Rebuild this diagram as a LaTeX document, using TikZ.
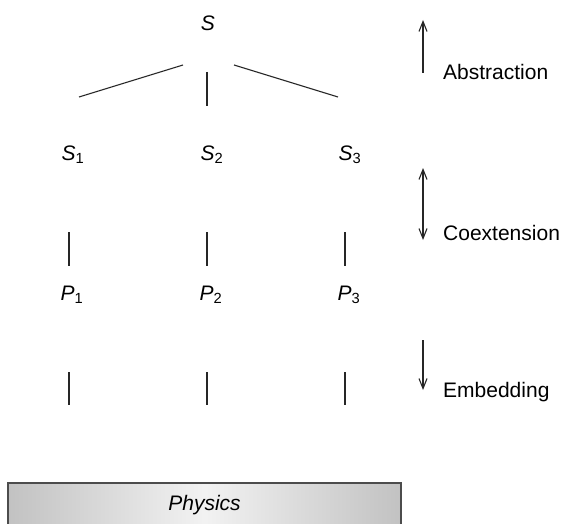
\documentclass[tikz,border=0pt]{standalone}
\usepackage{fontspec}
\setmainfont{Liberation Sans}
\usetikzlibrary{arrows.meta,positioning,calc}
\pgfdeclarehorizontalshading{physfade}{100bp}{color(0bp)=(black!24); color(25bp)=(black!24); color(50bp)=(black!5); color(75bp)=(black!24); color(100bp)=(black!24)}

\begin{document}
\begin{tikzpicture}[x=1pt, y=1pt,
    barb/.tip={Straight Barb[length=10pt, width=8pt]},
    lbl/.style={font=\fontsize{21}{25}\selectfont, inner sep=0pt},
    link/.style={line width=1.1pt, black!85},
    dir/.style={line width=1.1pt, black!85, -barb}]
  \useasboundingbox (0,0) rectangle (564,523);
  % Levels
  \node[lbl] (S) at (208,500) {\textit{S}};
  \node[lbl] (S1) at (73,368) {\textit{S}\textsubscript{1}};
  \node[lbl] (S2) at (212,368) {\textit{S}\textsubscript{2}};
  \node[lbl] (S3) at (350,368) {\textit{S}\textsubscript{3}};
  \node[lbl] (P1) at (72,228) {\textit{P}\textsubscript{1}};
  \node[lbl] (P2) at (211,228) {\textit{P}\textsubscript{2}};
  \node[lbl] (P3) at (349,228) {\textit{P}\textsubscript{3}};
  % Branches from S
  \draw[link] ($(S)+(-25,-42)$) -- ($(S1)+(6,58)$);
  \draw[link] ($(S)+(-1,-49)$) -- ($(S2)+(-5,49)$);
  \draw[link] ($(S)+(26,-42)$) -- ($(S3)+(-12,58)$);
  % Vertical links
  \draw[link] ($(S1)+(-4,-77)$) -- ($(P1)+(-3,29)$);
  \draw[link] ($(S2)+(-5,-77)$) -- ($(P2)+(-4,29)$);
  \draw[link] ($(S3)+(-5,-77)$) -- ($(P3)+(-4,29)$);
  \draw[link] ($(P1)+(-3,-77)$) -- ($(P1)+(-3,-110)$);
  \draw[link] ($(P2)+(-4,-77)$) -- ($(P2)+(-4,-110)$);
  \draw[link] ($(P3)+(-4,-77)$) -- ($(P3)+(-4,-110)$);
  % Base box
  \draw[line width=1.4pt, black!70, shading=physfade] (8,-4) rectangle (401,40);
  \node[lbl] (phys) at (204.5,18) {\textit{Physics}};
  % Relations
  \node[lbl, anchor=base west] (abs) at (443,443) {Abstraction};
  \node[lbl, anchor=base west] (coe) at (443,283) {Coextension};
  \node[lbl, anchor=base west] (emb) at (443,126) {Embedding};
  \draw[dir] ($(abs.base west)+(-20,7)$) -- ($(abs.base west)+(-20,60)$);
  \draw[dir, barb-barb] ($(coe.base west)+(-20,72)$) -- ($(coe.base west)+(-20,0)$);
  \draw[dir] ($(emb.base west)+(-20,57)$) -- ($(emb.base west)+(-20,7)$);
\end{tikzpicture}
\end{document}
